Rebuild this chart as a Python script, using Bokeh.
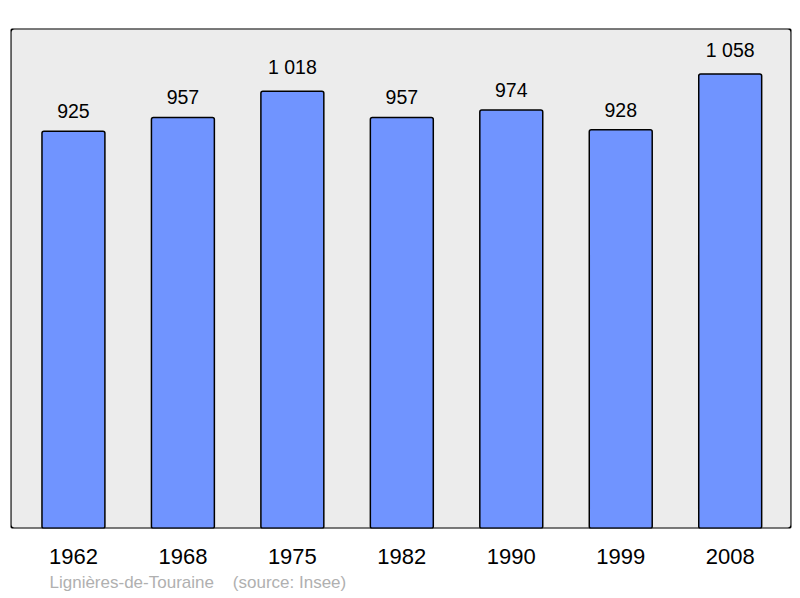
from bokeh.plotting import figure
from bokeh.models import Range1d, FixedTicker, BoxAnnotation, Title, ColumnDataSource
from bokeh.embed import file_html
from bokeh.resources import INLINE
from bokeh.core.properties import value

years = ["1962", "1968", "1975", "1982", "1990", "1999", "2008"]
population = [925, 957, 1018, 957, 974, 928, 1058]
value_labels = ["925", "957", "1 018", "957", "974", "928", "1 058"]
town = "Lignières-de-Touraine"
source_note = "(source: Insee)"

idx = list(range(len(years)))
src = ColumnDataSource(dict(x=idx, top=population, lab=value_labels))

p = figure(width=800, height=598, output_backend="svg", toolbar_location=None,
           x_range=Range1d(-0.575, 6.56), y_range=Range1d(0, 1164),
           min_border_left=10, min_border_right=9, min_border_top=28, min_border_bottom=70)
p.background_fill_color = "#ececec"
p.border_fill_color = "white"
p.outline_line_color = None
p.grid.visible = False
p.yaxis.visible = False

p.vbar(x="x", top="top", bottom=0, width=0.575, source=src,
       fill_color="#7094ff", line_color="black", line_width=1.5, border_radius=2)

p.text(x="x", y="top", text="lab", source=src, text_align="center",
       text_baseline="bottom", y_offset=-13, text_font=value("Liberation Sans"),
       text_font_size="19.5px", text_color="black")

frame = BoxAnnotation(fill_color=None, fill_alpha=0, line_color="black", line_alpha=1,
                      line_width=2.2, border_radius=4, level="overlay")
p.add_layout(frame)

ax = p.xaxis[0]
ax.ticker = FixedTicker(ticks=idx)
ax.major_label_overrides = {i: y for i, y in zip(idx, years)}
ax.axis_line_color = None
ax.major_tick_line_color = None
ax.minor_tick_line_color = None
ax.major_label_text_font = "Liberation Sans"
ax.major_label_text_font_size = "22px"
ax.major_label_text_color = "black"
ax.major_label_standoff = 14

footer = Title(text=town + "\u00a0\u00a0\u00a0\u00a0" + source_note, align="left", offset=39,
               text_font="Liberation Sans", text_font_size="17px",
               text_font_style="normal", text_color="#b0b0b0", standoff=9)
p.add_layout(footer, "below")

open("out.html", "w").write(file_html(p, INLINE))
